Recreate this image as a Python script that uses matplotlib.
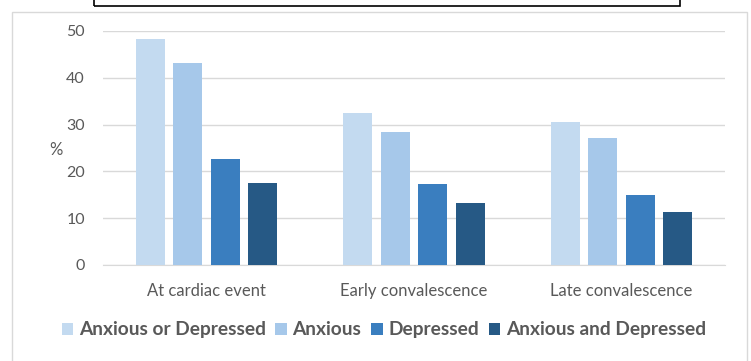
import matplotlib.pyplot as plt
from matplotlib.patches import Rectangle
import numpy as np

# data
categories = ["At cardiac event", "Early convalescence", "Late convalescence"]
series = ["Anxious or Depressed", "Anxious", "Depressed", "Anxious and Depressed"]
anx_or_dep = [48.3, 32.5, 30.6]
anxious = [43.2, 28.4, 27.1]
depressed = [22.6, 17.3, 15.0]
anx_and_dep = [17.5, 13.2, 11.3]
colors = ["#C3DAF0", "#A6C8EA", "#3A7EBF", "#265985"]

plt.rcParams['font.family'] = ['Lato', 'DejaVu Sans']
grey = "#595959"

fig = plt.figure(figsize=(7.51, 3.61), dpi=100)
ax = fig.add_axes([103/751, 1-265/361, 622/751, 234/361])

x = np.arange(len(categories))
w = 0.14
step = 0.181
values = [anx_or_dep, anxious, depressed, anx_and_dep]
for i, (vals, name, c) in enumerate(zip(values, series, colors)):
    ax.bar(x + (i - 1.5)*step, vals, w, color=c, label=name, zorder=3)

ax.set_xlim(-0.5, 2.5)
ax.set_ylim(0, 50)
ax.set_yticks(range(0, 51, 10))
ax.set_xticks(x)
ax.set_xticklabels(categories)
ax.tick_params(axis='y', length=0, pad=13, labelsize=11.5, labelcolor=grey)
ax.tick_params(axis='x', length=0, pad=13, labelsize=12, labelcolor=grey)
ax.grid(axis='y', color="#D9D9D9", linewidth=1, zorder=0)
for s in ['top', 'right', 'left']:
    ax.spines[s].set_visible(False)
ax.spines['bottom'].set_color("#D9D9D9")
ax.set_ylabel("%", rotation=0, color=grey, fontsize=12, labelpad=8, va='center')
ax.yaxis.set_label_coords(-0.075, 0.49)

fig.legend(loc='center', bbox_to_anchor=(0.511, 0.086), ncol=4, frameon=False,
           handlelength=0.6, handleheight=0.6, handletextpad=0.3, columnspacing=0.5,
           prop={'weight': 'bold', 'size': 13.8}, labelcolor=grey)

# outer chart frame and box above
fig.patches.append(Rectangle((12/751, -0.1), 735/751, 1.1 - 12/361, transform=fig.transFigure,
                             fill=False, edgecolor="#D9D9D9", linewidth=1))
fig.patches.append(Rectangle((94/751, 1-6/361), 586/751, 0.1, transform=fig.transFigure,
                             fill=False, edgecolor="black", linewidth=1.2))

fig.savefig("out.png", dpi=100)
